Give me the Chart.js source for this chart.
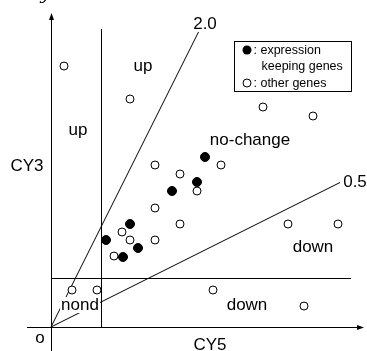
<!DOCTYPE html>
<html>
<head>
<meta charset="utf-8">
<script src="https://cdn.jsdelivr.net/npm/chart.js@4.4.1/dist/chart.umd.min.js"></script>
<style>
  body { margin: 0; background: #fff; }
  #wrap { width: 367px; height: 351px; }
</style>
</head>
<body>
<div id="wrap"><canvas id="myChart"></canvas></div>
<script>
// CY5 (x) / CY3 (y) intensities, arbitrary units
const otherX = [1.3, 7.9, 21.2, 26.2, 10.4, 12.9, 17.0, 14.6, 10.4, 12.9, 23.7, 28.7, 7.1, 7.9, 10.4, 6.3, 2.1, 4.6, 16.2, 25.3];
const otherY = [26.1, 22.8, 22.0, 21.1, 16.2, 15.3, 16.2, 13.6, 11.9, 10.3, 10.3, 10.3, 9.5, 8.7, 8.7, 7.1, 3.7, 3.7, 3.7, 2.1];
const keepX = [15.4, 14.6, 12.1, 7.9, 5.5, 7.2, 8.7];
const keepY = [17.0, 14.5, 13.6, 10.3, 8.7, 7.0, 7.9];

// thresholds and ratio lines
const cutX = 5.0;
const cutY = 4.9;
const ratios = [2.0, 0.5];
const ratioEnds = [14.8, 28.9];

// region / axis labels
const labelText = ["up", "up", "no-change", "down", "down", "nond", "CY3", "CY5", "o", "2.0", "0.5"];
const labelX = [9.2, 2.7, 19.9, 26.2, 19.6, 2.9, -2.4, 15.9, -1.1, 15.4, 30.4];
const labelY = [26.1, 19.7, 18.7, 8.0, 2.2, 2.2, 16.1, -1.8, -1.1, 30.3, 14.5];

const toPts = (xs, ys) => xs.map((x, i) => ({ x: x, y: ys[i] }));

const drawing = {
  id: "drawing",
  beforeDatasetsDraw(chart) {
    const ctx = chart.ctx;
    const X = v => chart.scales.x.getPixelForValue(v);
    const Y = v => chart.scales.y.getPixelForValue(v);
    const crisp = p => Math.round(p) + 0.5;
    ctx.save();
    ctx.strokeStyle = "#000";
    ctx.lineWidth = 1;

    function seg(x1, y1, x2, y2) {
      ctx.beginPath();
      ctx.moveTo(x1, y1);
      ctx.lineTo(x2, y2);
      ctx.stroke();
    }

    // axes (crossing at origin)
    const ox = crisp(X(0)), oy = crisp(Y(0));
    seg(X(-2.4), oy, X(31.1), oy);
    seg(ox, Y(-2.5), ox, Y(31.2));
    ctx.fillStyle = "#000";
    ctx.beginPath();
    ctx.moveTo(X(31.3), oy);
    ctx.lineTo(X(30.6), oy - 2.5);
    ctx.lineTo(X(30.6), oy + 2.5);
    ctx.fill();
    ctx.beginPath();
    ctx.moveTo(ox, Y(31.4));
    ctx.lineTo(ox - 2.5, Y(30.7));
    ctx.lineTo(ox + 2.5, Y(30.7));
    ctx.fill();

    // threshold lines
    seg(crisp(X(cutX)), Y(0), crisp(X(cutX)), Y(29.8));
    seg(X(0), crisp(Y(cutY)), X(30.0), crisp(Y(cutY)));

    // ratio lines
    ratios.forEach((r, i) => {
      seg(X(0), Y(0), X(ratioEnds[i]), Y(ratioEnds[i] * r));
    });

    // labels
    ctx.font = "17px 'Liberation Sans', Arial, sans-serif";
    ctx.textAlign = "center";
    ctx.textBaseline = "middle";
    labelText.forEach((t, i) => {
      const px = X(labelX[i]), py = Y(labelY[i]);
      const w = ctx.measureText(t).width;
      ctx.fillStyle = "#fff";
      ctx.fillRect(px - w / 2 - 1, py - 8, w + 2, 16);
      ctx.fillStyle = "#000";
      ctx.fillText(t, px, py);
    });

    // cut-off italic letter at the top
    ctx.font = "italic 17px 'DejaVu Serif', serif";
    ctx.textBaseline = "alphabetic";
    ctx.fillText("y", X(-0.6), Y(32.8));
    ctx.restore();
  },
  afterDraw(chart) {
    const ctx = chart.ctx;
    const X = v => chart.scales.x.getPixelForValue(v);
    const Y = v => chart.scales.y.getPixelForValue(v);
    ctx.save();
    const bx = Math.round(X(18.3)) + 0.5, by = Math.round(Y(28.6)) + 0.5;
    const bw = Math.round(X(30.0) - X(18.3)), bh = Math.round(Y(23.6) - Y(28.6));
    ctx.fillStyle = "#fff";
    ctx.fillRect(bx, by, bw, bh);
    ctx.strokeStyle = "#000";
    ctx.lineWidth = 1;
    ctx.strokeRect(bx, by, bw, bh);

    ctx.fillStyle = "#000";
    ctx.beginPath();
    ctx.arc(bx + 12.5, by + 8.5, 4.5, 0, Math.PI * 2);
    ctx.fill();
    ctx.beginPath();
    ctx.arc(bx + 12.5, by + 41.5, 4, 0, Math.PI * 2);
    ctx.stroke();

    ctx.font = "12.5px 'Liberation Sans', Arial, sans-serif";
    ctx.textAlign = "left";
    ctx.textBaseline = "middle";
    ctx.fillText(": expression", bx + 19, by + 9);
    ctx.fillText("keeping genes", bx + 27, by + 25);
    ctx.fillText(": other genes", bx + 19, by + 42);
    ctx.restore();
  }
};

const config = {
  type: "scatter",
  data: {
    datasets: [
      {
        label: "other genes",
        data: toPts(otherX, otherY),
        pointRadius: 4,
        pointBorderWidth: 1,
        borderColor: "#000",
        backgroundColor: "#fff"
      },
      {
        label: "expression keeping genes",
        data: toPts(keepX, keepY),
        pointRadius: 4.5,
        pointBorderWidth: 1,
        borderColor: "#000",
        backgroundColor: "#000"
      }
    ]
  },
  options: {
    responsive: true,
    maintainAspectRatio: false,
    animation: false,
    layout: { padding: 0, autoPadding: false },
    plugins: { legend: { display: false }, tooltip: { enabled: false } },
    scales: {
      x: { type: "linear", min: -5.1, max: 31.6, display: false },
      y: { type: "linear", min: -2.4, max: 32.7, display: false }
    }
  },
  plugins: [drawing]
};

const myChart = new Chart(document.getElementById("myChart"), config);
</script>
</body>
</html>
